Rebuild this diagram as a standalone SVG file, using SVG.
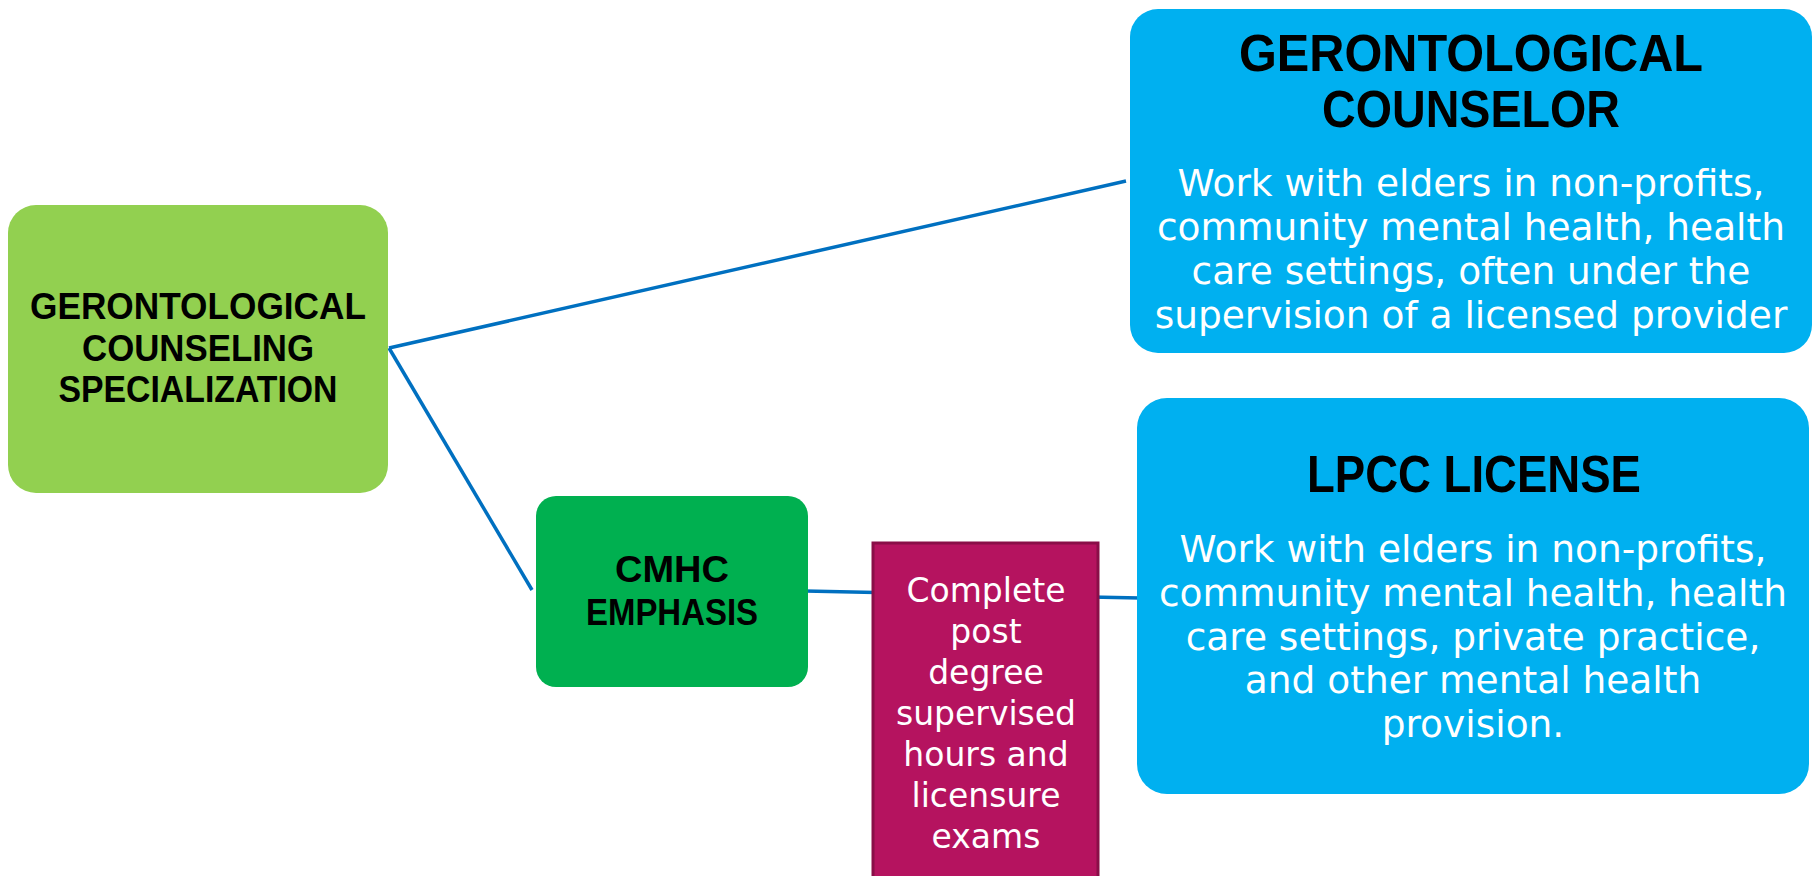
<svg xmlns="http://www.w3.org/2000/svg" width="1818" height="876" viewBox="0 0 1818 876">
<style>
.title{font-family:"Liberation Sans",Arial,sans-serif;font-weight:bold;fill:#000;text-anchor:middle}
.body{font-family:"DejaVu Sans","Noto Sans",sans-serif;fill:#fff;text-anchor:middle}
.conn{stroke:#0070C0;stroke-width:3.5;fill:none}
</style>
<rect width="1818" height="876" fill="#fff"/>
<g id="connectors">
<line class="conn" x1="389" y1="348" x2="1126" y2="181"/>
<line class="conn" x1="389" y1="348" x2="532" y2="590"/>
<line class="conn" x1="805" y1="591" x2="1140" y2="598"/>
</g>
<g id="node-specialization">
<rect x="8" y="205" width="380" height="288" rx="28" fill="#92D050"/>
<text class="title" font-size="36" x="198" y="319" textLength="336" lengthAdjust="spacingAndGlyphs">GERONTOLOGICAL</text>
<text class="title" font-size="36" x="198" y="361" textLength="232" lengthAdjust="spacingAndGlyphs">COUNSELING</text>
<text class="title" font-size="36" x="198" y="402" textLength="279" lengthAdjust="spacingAndGlyphs">SPECIALIZATION</text>
</g>
<g id="node-cmhc">
<rect x="536" y="496" width="272" height="191" rx="20" fill="#00B050"/>
<text class="title" font-size="36" x="672" y="582" textLength="114" lengthAdjust="spacingAndGlyphs">CMHC</text>
<text class="title" font-size="36" x="672" y="625" textLength="172" lengthAdjust="spacingAndGlyphs">EMPHASIS</text>
</g>
<g id="node-hours">
<rect x="873" y="543" width="225" height="345" fill="#B5135F" stroke="#8A0E48" stroke-width="3"/>
<text class="body" font-size="33"><tspan x="986" y="602">Complete</tspan><tspan x="986" y="643">post</tspan><tspan x="986" y="684">degree</tspan><tspan x="986" y="725">supervised</tspan><tspan x="986" y="766">hours and</tspan><tspan x="986" y="807">licensure</tspan><tspan x="986" y="848">exams</tspan></text>
</g>
<g id="node-counselor">
<rect x="1130" y="9" width="682" height="344" rx="28" fill="#00B0F0"/>
<text class="title" font-size="51" x="1471" y="71" textLength="464" lengthAdjust="spacingAndGlyphs">GERONTOLOGICAL</text>
<text class="title" font-size="51" x="1471" y="127" textLength="298" lengthAdjust="spacingAndGlyphs">COUNSELOR</text>
<text class="body" font-size="37.5"><tspan x="1471" y="196">Work with elders in non-profits,</tspan><tspan x="1471" y="240">community mental health, health</tspan><tspan x="1471" y="284">care settings, often under the</tspan><tspan x="1471" y="328">supervision of a licensed provider</tspan></text>
</g>
<g id="node-lpcc">
<rect x="1137" y="398" width="672" height="396" rx="30" fill="#00B0F0"/>
<text class="title" font-size="51" x="1474" y="492" textLength="334" lengthAdjust="spacingAndGlyphs">LPCC LICENSE</text>
<text class="body" font-size="37.5"><tspan x="1473" y="562">Work with elders in non-profits,</tspan><tspan x="1473" y="606">community mental health, health</tspan><tspan x="1473" y="650">care settings, private practice,</tspan><tspan x="1473" y="693">and other mental health</tspan><tspan x="1473" y="737">provision.</tspan></text>
</g>
</svg>
